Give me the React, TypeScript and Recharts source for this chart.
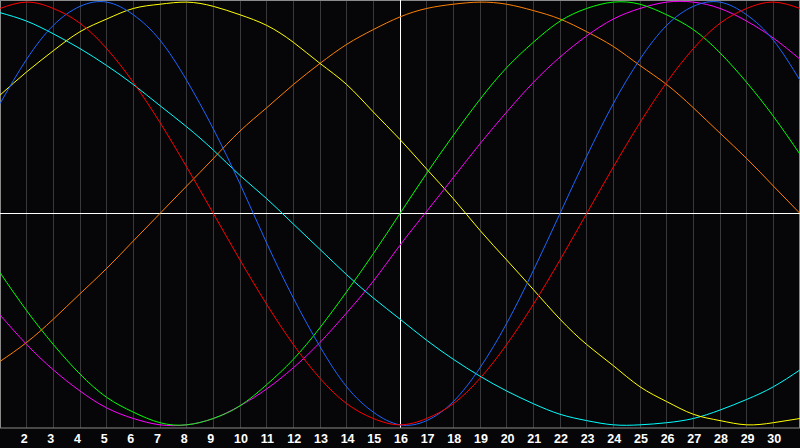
import { LineChart, Line, XAxis, YAxis, CartesianGrid, ReferenceLine } from "recharts";

const days = [1, 2, 3, 4, 5, 6, 7, 8, 9, 10, 11, 12, 13, 14, 15, 16, 17, 18, 19, 20, 21, 22, 23, 24, 25, 26, 27, 28, 29, 30, 31];
const tickDays = [2, 3, 4, 5, 6, 7, 8, 9, 10, 11, 12, 13, 14, 15, 16, 17, 18, 19, 20, 21, 22, 23, 24, 25, 26, 27, 28, 29, 30];

// values in percent, one per day
const physical = [52, 73, 89, 98, 100, 94, 82, 63, 40, 14, -14, -40, -63, -82, -94, -100, -98, -89, -73, -52, -27, 0, 27, 52, 73, 89, 98, 100, 94, 82, 63];
const emotional = [97, 100, 97, 90, 78, 62, 43, 22, 0, -22, -43, -62, -78, -90, -97, -100, -97, -90, -78, -62, -43, -22, 0, 22, 43, 62, 78, 90, 97, 100, 97];
const intellectual = [-28, -46, -62, -76, -87, -94, -99, -100, -97, -91, -81, -69, -54, -37, -19, 0, 19, 37, 54, 69, 81, 91, 97, 100, 99, 94, 87, 76, 62, 46, 28];
const intuitive = [-48, -62, -74, -84, -92, -97, -100, -100, -97, -91, -83, -73, -61, -47, -32, -15, 1, 17, 33, 48, 62, 74, 84, 92, 97, 100, 100, 97, 91, 83, 73];
const aesthetic = [56, 67, 77, 86, 92, 97, 99, 100, 98, 94, 89, 81, 71, 61, 48, 35, 21, 7, -8, -22, -36, -50, -62, -72, -82, -89, -95, -98, -100, -99, -97];
const awareness = [-70, -61, -50, -38, -26, -13, 0, 13, 26, 39, 50, 61, 71, 80, 87, 93, 97, 99, 100, 99, 96, 92, 86, 79, 70, 61, 50, 38, 26, 13, 0];
const spiritual = [95, 91, 85, 78, 70, 61, 51, 41, 30, 18, 7, -5, -17, -29, -40, -50, -60, -69, -77, -84, -90, -95, -98, -100, -100, -99, -97, -93, -88, -82, -74];

const data = days.map((day, i) => ({
  day,
  physical: physical[i],
  emotional: emotional[i],
  intellectual: intellectual[i],
  intuitive: intuitive[i],
  aesthetic: aesthetic[i],
  awareness: awareness[i],
  spiritual: spiritual[i],
}));

const series = [
  { key: "spiritual", color: "#00ffff" },
  { key: "awareness", color: "#ff8000" },
  { key: "aesthetic", color: "#ffff00" },
  { key: "intuitive", color: "#ff00ff" },
  { key: "intellectual", color: "#00ff00" },
  { key: "physical", color: "#1a66ff" },
  { key: "emotional", color: "#ff0000" },
];

const DayTick = (props: any) => {
  const { x, payload } = props;
  return (
    <text
      x={x - 6}
      y={443}
      textAnchor="start"
      fill="#ffffff"
      fontFamily="'Liberation Sans', Arial, sans-serif"
      fontWeight="bold"
      fontSize={12.5}
    >
      {payload.value}
    </text>
  );
};

export default function App() {
  return (
    <div style={{ width: 800, height: 448, background: "#060609" }}>
      <style>{`body { margin: 0; background: #060609; }`}</style>
      <LineChart width={800} height={448} data={data} margin={{ top: 0, right: 0, bottom: 0, left: 0 }}>
        <CartesianGrid horizontal={false} stroke="#38383a" shapeRendering="crispEdges" />
        <XAxis
          dataKey="day"
          type="number"
          domain={[1, 31]}
          ticks={tickDays}
          interval={0}
          height={20}
          tickLine={false}
          axisLine={{ stroke: "#8a8a8a" }}
          tick={<DayTick />}
          allowDataOverflow
        />
        <YAxis hide domain={[-101.5, 101]} allowDataOverflow />
        <ReferenceLine x={1} stroke="#8a8a8a" strokeWidth={2} />
        <ReferenceLine y={101} stroke="#8a8a8a" strokeWidth={2} />
        <ReferenceLine x={31} stroke="#8a8a8a" strokeWidth={2} />
        <ReferenceLine x={16} stroke="#ffffff" shapeRendering="crispEdges" />
        <ReferenceLine y={0} stroke="#ffffff" shapeRendering="crispEdges" />
        {series.map((s) => (
          <Line
            key={s.key}
            type="natural"
            dataKey={s.key}
            stroke={s.color}
            strokeWidth={1}
            dot={false}
            activeDot={false}
            isAnimationActive={false}
          />
        ))}
      </LineChart>
    </div>
  );
}
